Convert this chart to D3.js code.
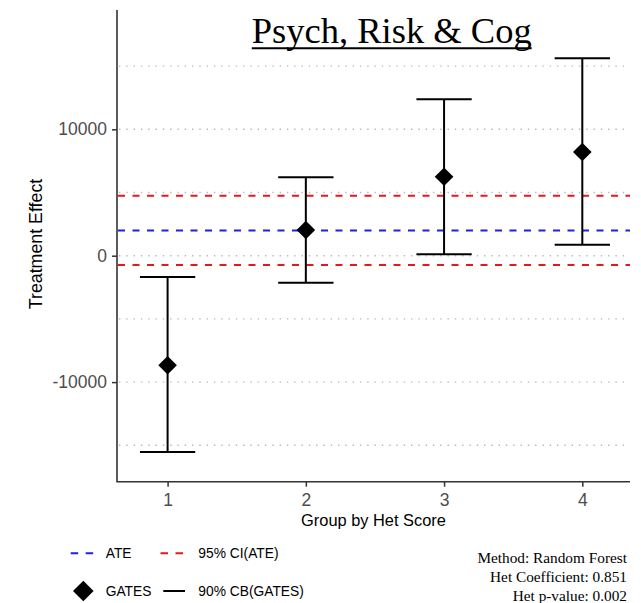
<!DOCTYPE html>
<html>
<head>
<meta charset="utf-8">
<script src="https://cdn.jsdelivr.net/npm/d3@7"></script>
<style>
  body { margin: 0; background: #fff; }
  svg { display: block; }
</style>
</head>
<body>
<div id="chart"></div>
<script>
var width = 641;
var height = 603;

// values
var groups = [1, 2, 3, 4];
var gates = [-8670, 2030, 6250, 8210];
var cbLower = [-15530, -2140, 110, 870];
var cbUpper = [-1690, 6200, 12370, 15620];
var ate = 2000;
var ciAte = [-740, 4740];
var yTicks = [-10000, 0, 10000];
var gridValues = [-15000, -10000, -5000, 0, 5000, 10000, 15000];
var legendRows = [
    [{ kind: "dash", color: "#1f1fe6", label: "ATE" }, { kind: "dash", color: "#e31a1c", label: "95% CI(ATE)" }],
    [{ kind: "diamond", color: "#000", label: "GATES" }, { kind: "line", color: "#000", label: "90% CB(GATES)" }]
];
var notes = ["Method: Random Forest", "Het Coefficient: 0.851", "Het p-value: 0.002"];
var title = "Psych, Risk & Cog";

var panel = { left: 117, right: 630, top: 10, bottom: 481.7 };

var x = d3.scaleLinear().domain([0.634, 4.345]).range([panel.left, panel.right]);
var y = d3.scaleLinear().domain([-17880, 19440]).range([panel.bottom, panel.top]);

var svg = d3.select("#chart")
    .append("svg")
    .attr("width", width)
    .attr("height", height)
    .style("font-family", "Arial, 'Liberation Sans', sans-serif");

// dotted grid
svg.append("g")
    .selectAll("line")
    .data(gridValues)
    .enter()
    .append("line")
    .attr("x1", panel.left + 2)
    .attr("x2", panel.right)
    .attr("y1", function (d) { return y(d); })
    .attr("y2", function (d) { return y(d); })
    .attr("stroke", "#b8b8b8")
    .attr("stroke-width", 1.4)
    .attr("stroke-dasharray", "1.4,5.9");

// ATE and its interval
var refLines = [
    { v: ciAte[1], color: "#e31a1c" },
    { v: ate, color: "#1f1fe6" },
    { v: ciAte[0], color: "#e31a1c" }
];
svg.append("g")
    .selectAll("line")
    .data(refLines)
    .enter()
    .append("line")
    .attr("x1", panel.left + 1)
    .attr("x2", panel.right)
    .attr("y1", function (d) { return y(d.v); })
    .attr("y2", function (d) { return y(d.v); })
    .attr("stroke", function (d) { return d.color; })
    .attr("stroke-width", 2)
    .attr("stroke-dasharray", "7,7.5");

// error bars
var capHalf = 0.2;
var bars = svg.append("g")
    .attr("stroke", "#000")
    .attr("stroke-width", 2)
    .selectAll("g")
    .data(groups)
    .enter()
    .append("g");

bars.append("line")
    .attr("x1", function (d) { return x(d); })
    .attr("x2", function (d) { return x(d); })
    .attr("y1", function (d, i) { return y(cbLower[i]); })
    .attr("y2", function (d, i) { return y(cbUpper[i]); });

bars.append("line")
    .attr("x1", function (d) { return x(d - capHalf); })
    .attr("x2", function (d) { return x(d + capHalf); })
    .attr("y1", function (d, i) { return y(cbLower[i]); })
    .attr("y2", function (d, i) { return y(cbLower[i]); });

bars.append("line")
    .attr("x1", function (d) { return x(d - capHalf); })
    .attr("x2", function (d) { return x(d + capHalf); })
    .attr("y1", function (d, i) { return y(cbUpper[i]); })
    .attr("y2", function (d, i) { return y(cbUpper[i]); });

// GATES diamonds
var diamond = d3.symbol().type(d3.symbolSquare).size(173);
svg.append("g")
    .selectAll("path")
    .data(groups)
    .enter()
    .append("path")
    .attr("d", diamond)
    .attr("transform", function (d, i) {
        return "translate(" + x(d) + "," + y(gates[i]) + ") rotate(45)";
    })
    .attr("fill", "#000");

// axes (plain hyphen for negatives, like R)
var plain = function (d) { return String(d); };
var yAxis = svg.append("g")
    .attr("transform", "translate(" + panel.left + ",0)")
    .call(d3.axisLeft(y).tickValues(yTicks).tickSize(5).tickPadding(5).tickFormat(plain));
var xAxis = svg.append("g")
    .attr("transform", "translate(0," + panel.bottom + ")")
    .call(d3.axisBottom(x).tickValues(groups).tickSize(5).tickPadding(4).tickFormat(plain));

[yAxis, xAxis].forEach(function (a) {
    a.select(".domain").remove();
    a.selectAll(".tick line").attr("stroke", "#333").attr("stroke-width", 1.5);
    a.selectAll(".tick text")
        .attr("fill", "#4d4d4d")
        .style("font-size", "17.5px")
        .style("font-family", "Arial, 'Liberation Sans', sans-serif");
});
xAxis.selectAll(".tick text").attr("dy", "0.9em");

svg.append("path")
    .attr("d", "M" + panel.left + "," + panel.top + "V" + panel.bottom + "H" + panel.right)
    .attr("fill", "none")
    .attr("stroke", "#333")
    .attr("stroke-width", 1.6);

// axis titles
svg.append("text")
    .attr("x", (panel.left + panel.right) / 2)
    .attr("y", 525.7)
    .attr("text-anchor", "middle")
    .style("font-size", "16.4px")
    .text("Group by Het Score");

svg.append("text")
    .attr("transform", "translate(41.5,244) rotate(-90)")
    .attr("text-anchor", "middle")
    .style("font-size", "17.8px")
    .text("Treatment Effect");

// title, underlined
var titleText = svg.append("text")
    .attr("x", 391.7)
    .attr("y", 43.3)
    .attr("text-anchor", "middle")
    .style("font-family", "'Liberation Serif', 'Times New Roman', serif")
    .style("font-size", "36.5px")
    .attr("fill", "#000")
    .text(title);
var tb = titleText.node().getBBox();
svg.append("line")
    .attr("x1", tb.x)
    .attr("x2", tb.x + tb.width)
    .attr("y1", 48.3)
    .attr("y2", 48.3)
    .attr("stroke", "#000")
    .attr("stroke-width", 2);

// legend
var rowY = [553.3, 591];
var colX = [70.7, 160.5];
legendRows.forEach(function (row, r) {
    row.forEach(function (item, c) {
        var g = svg.append("g").attr("transform", "translate(" + colX[c] + "," + rowY[r] + ")");
        if (item.kind === "dash") {
            g.append("line")
                .attr("x1", 0).attr("x2", 23)
                .attr("stroke", item.color)
                .attr("stroke-width", 2)
                .attr("stroke-dasharray", "7.5,7.5");
        } else if (item.kind === "line") {
            g.append("line")
                .attr("x1", 2.8).attr("x2", 24.5)
                .attr("stroke", item.color)
                .attr("stroke-width", 2);
        } else {
            g.append("path")
                .attr("d", d3.symbol().type(d3.symbolSquare).size(212))
                .attr("transform", "translate(12.6,0) rotate(45)")
                .attr("fill", item.color);
        }
        g.append("text")
            .attr("x", c === 0 ? 35 : 37.8)
            .attr("dy", "0.36em")
            .style("font-size", "13.8px")
            .attr("fill", "#000")
            .text(item.label);
    });
});

// notes bottom right
svg.append("g")
    .selectAll("text")
    .data(notes)
    .enter()
    .append("text")
    .attr("x", 627)
    .attr("y", function (d, i) { return 563 + i * 19; })
    .attr("text-anchor", "end")
    .style("font-family", "'Liberation Serif', 'Times New Roman', serif")
    .style("font-size", "15.3px")
    .attr("fill", "#000")
    .text(function (d) { return d; });
</script>
</body>
</html>
